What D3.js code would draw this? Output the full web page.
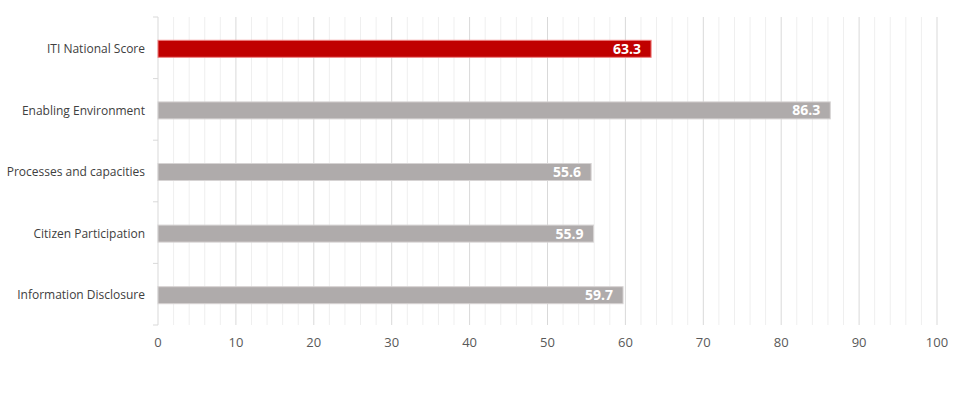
<!DOCTYPE html>
<html>
<head>
<meta charset="utf-8">
<script src="https://cdn.jsdelivr.net/npm/d3@7"></script>
<style>
  body { margin: 0; background: #fff; }
  text { font-family: "Open Sans", "Liberation Sans", sans-serif; }
</style>
</head>
<body>
<script>
// data
var categories = ["ITI National Score", "Enabling Environment", "Processes and capacities", "Citizen Participation", "Information Disclosure"];
var scores = [63.3, 86.3, 55.6, 55.9, 59.7];
var barColors = ["#c00000", "#afabab", "#afabab", "#afabab", "#afabab"];
var xTicks = [0, 10, 20, 30, 40, 50, 60, 70, 80, 90, 100];

var width = 973, height = 398;
var margin = {top: 17, right: 36, bottom: 73, left: 158};

var svg = d3.select("body").append("svg")
            .attr("width", width)
            .attr("height", height);

var x = d3.scaleLinear().domain([0, 100]).range([margin.left, width - margin.right]);
var y = d3.scaleBand().domain(categories).range([margin.top, height - margin.bottom]);

//minor gridlines every 2
var minor = d3.range(2, 100, 2).filter(function(d){ return d % 10 != 0; });
svg.append("g").selectAll("line").data(minor).enter().append("line")
   .attr("x1", function(d){ return x(d); })
   .attr("x2", function(d){ return x(d); })
   .attr("y1", margin.top)
   .attr("y2", height - margin.bottom)
   .style("stroke", "#efefef")
   .style("stroke-width", 1);

//major gridlines
svg.append("g").selectAll("line").data(xTicks.slice(1)).enter().append("line")
   .attr("x1", function(d){ return x(d); })
   .attr("x2", function(d){ return x(d); })
   .attr("y1", margin.top)
   .attr("y2", height - margin.bottom)
   .style("stroke", "#d9d9d9")
   .style("stroke-width", 1);

//vertical category axis with tick marks at band edges
var edges = categories.map(function(c){ return y(c); }).concat([height - margin.bottom]);
svg.append("line")
   .attr("x1", x(0)).attr("x2", x(0))
   .attr("y1", margin.top).attr("y2", height - margin.bottom)
   .style("stroke", "#d9d9d9");
svg.append("g").selectAll("line").data(edges).enter().append("line")
   .attr("x1", x(0) - 5).attr("x2", x(0))
   .attr("y1", function(d){ return d; })
   .attr("y2", function(d){ return d; })
   .style("stroke", "#d9d9d9");

//category labels
svg.append("g").selectAll("text").data(categories).enter().append("text")
   .attr("x", x(0) - 13)
   .attr("y", function(d){ return y(d) + y.bandwidth() / 2 + 1; })
   .attr("dy", "0.35em")
   .attr("text-anchor", "end")
   .style("font-size", "12px")
   .style("fill", "#404040")
   .text(function(d){ return d; });

//x axis labels
svg.append("g").selectAll("text").data(xTicks).enter().append("text")
   .attr("x", function(d){ return x(d); })
   .attr("y", height - margin.bottom + 22)
   .attr("text-anchor", "middle")
   .style("font-size", "13px")
   .style("fill", "#595959")
   .text(function(d){ return d; });

//bars
var barH = 17;
svg.append("g").selectAll("rect").data(categories).enter().append("rect")
   .attr("x", x(0))
   .attr("y", function(d){ return y(d) + y.bandwidth() / 2 - barH / 2 + 1; })
   .attr("width", function(d, i){ return x(scores[i]) - x(0); })
   .attr("height", barH)
   .style("fill", function(d, i){ return barColors[i]; })
   .style("stroke", function(d, i){ return i == 0 ? "#f08080" : "#d6d3d3"; })
   .style("stroke-width", 1);

//value labels
svg.append("g").selectAll("text").data(categories).enter().append("text")
   .attr("x", function(d, i){ return x(scores[i]) - 10; })
   .attr("y", function(d){ return y(d) + y.bandwidth() / 2 + 1; })
   .attr("dy", "0.36em")
   .attr("text-anchor", "end")
   .style("font-size", "14px")
   .style("font-weight", "bold")
   .style("fill", "#fff")
   .text(function(d, i){ return scores[i].toFixed(1); });
</script>
</body>
</html>
